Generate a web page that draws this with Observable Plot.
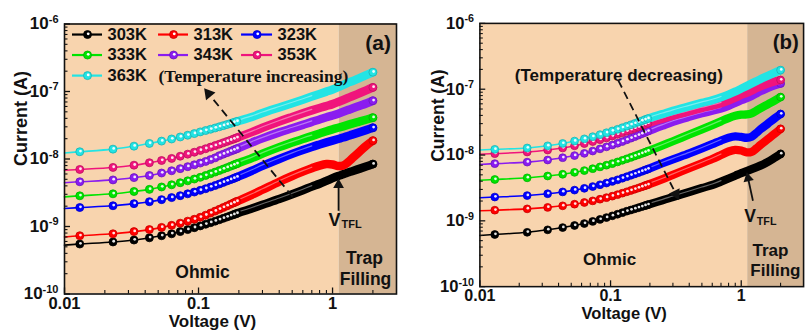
<!DOCTYPE html>
<html><head><meta charset="utf-8">
<script src="https://cdn.jsdelivr.net/npm/d3@7"></script>
<script src="https://cdn.jsdelivr.net/npm/@observablehq/plot@0.6"></script>
<style>
html,body{margin:0;padding:0;background:#fff;overflow:hidden;}
#wrap{position:relative;width:807px;height:331px;overflow:hidden;}
#pa{position:absolute;left:0;top:0;}
#pb{position:absolute;left:417px;top:0;}
</style></head><body><div id="wrap"><div id="pa"></div><div id="pb"></div></div>
<script>
// ---------- data ----------
const temps = ["303K","313K","323K","333K","343K","353K","363K"];
const colors = ["#000000","#ff0000","#0000ff","#00e400","#8a1cf0","#f0147c","#22e4e4"];
// voltage (V)
const V = [0.01,0.013,0.023,0.033,0.043,0.053,0.063,0.073,0.083,0.093,0.103,0.113,0.123,0.133,0.143,0.153,0.163,0.173,0.183,0.193,
           0.25,0.3,0.4,0.5,0.6,0.7,0.8,0.9,1.0,1.1,1.2,1.3,1.4,1.6,1.8,2.0];
// panel (a) currents, nA
const a303 = [0.53,0.55,0.59,0.63,0.68,0.73,0.78,0.84,0.9,0.96,1.02,1.08,1.14,1.2,1.26,1.32,1.38,1.44,1.5,1.56,1.85,2.1,2.55,3.0,3.45,3.9,4.3,4.75,5.2,5.6,5.95,6.3,6.6,7.2,7.8,8.4];
const a313 = [0.70,0.73,0.78,0.84,0.9,0.97,1.04,1.12,1.2,1.28,1.37,1.47,1.58,1.69,1.8,1.91,2.02,2.13,2.24,2.35,2.95,3.5,4.6,5.6,6.5,7.3,8.0,8.4,8.3,7.9,8.0,8.9,10.2,13.0,16.0,18.7];
const a323 = [1.85,1.91,2.03,2.18,2.33,2.5,2.68,2.86,3.05,3.24,3.43,3.63,3.84,4.05,4.27,4.5,4.72,4.94,5.16,5.38,6.7,7.9,10,11.9,13.6,15.1,16.4,17.6,18.7,19.8,20.8,21.9,23,25,27,29];
const a333 = [2.75,2.85,3.05,3.3,3.55,3.85,4.15,4.45,4.75,5.05,5.35,5.7,6.05,6.4,6.75,7.1,7.45,7.8,8.15,8.5,10.3,12.0,15,17.5,19.8,21.8,23.8,25.8,27.5,29,30.5,32,33.5,36,38.5,41];
const a343 = [4.45,4.6,4.9,5.3,5.7,6.2,6.7,7.2,7.7,8.2,8.7,9.2,9.8,10.4,11.2,11.8,12.4,13.0,13.6,14.2,17.5,20.2,24.8,28.5,32,35.5,38.5,41.5,44,47,50,53,56,61.5,67,73];
const a353 = [6.8,7.0,7.5,8.1,8.8,9.5,10.2,11.0,11.8,12.6,13.4,14.2,15.0,15.8,16.6,17.4,18.2,19.0,19.8,20.6,25,29,36,42,47.5,52.5,57,61,65,70,75,80,85,95,105,115];
const a363 = [12.3,12.8,14.0,15.5,17.0,18.4,19.8,21.2,22.5,23.8,25.2,26.4,27.6,28.8,30.0,31.2,32.4,33.6,34.8,36.0,42,48,58,67,75.5,84,92,99.5,107,116,125,135,142,159,176,193];
// panel (b) currents, nA
const b303 = [0.6,0.62,0.67,0.73,0.79,0.85,0.91,0.98,1.05,1.12,1.19,1.26,1.33,1.4,1.46,1.52,1.58,1.64,1.7,1.76,2.05,2.3,2.75,3.15,3.5,3.95,4.4,4.85,5.3,5.7,6.1,6.5,6.9,7.9,9.1,10.4];
const b313 = [1.42,1.45,1.52,1.6,1.69,1.79,1.9,2.01,2.13,2.25,2.37,2.5,2.63,2.76,2.89,3.02,3.15,3.28,3.41,3.54,4.3,5.0,6.3,7.5,8.7,10.0,11.3,12.0,11.7,11.0,11.2,12.5,14.2,17.5,21,25];
const b323 = [2.25,2.3,2.42,2.58,2.75,2.93,3.12,3.32,3.53,3.75,3.97,4.2,4.44,4.68,4.92,5.16,5.4,5.64,5.88,6.12,7.5,8.6,10.6,12.6,14.6,16.6,18.3,19.2,18.8,18.3,19.0,21.5,24.5,30,36,42];
const b333 = [4.15,4.25,4.5,4.8,5.1,5.45,5.8,6.2,6.6,7.0,7.4,7.85,8.3,8.75,9.2,9.65,10.1,10.55,11.0,11.45,14,16.2,20.5,24.5,28.5,32.5,36.5,39.5,41,41.5,43,47,51,59,67,76];
const b343 = [7.2,7.4,7.8,8.4,9.1,9.8,10.6,11.5,12.4,13.3,14.2,15.1,16.0,17.0,18.0,19.0,20.0,21.0,22.0,23.0,28,32,38,43,47,51,56,62,68,73,79,86,93,105,115,122];
const b353 = [10.3,10.5,11.1,11.9,12.8,13.8,14.9,16.0,17.1,18.2,19.4,20.6,21.8,23.0,24.2,25.4,26.6,27.8,29.0,30.2,35.5,39.5,46,51.5,56,61,67,74,82,88,95,103,110,122,131,138];
const b363 = [11.9,12.2,12.8,13.8,15.0,16.3,17.6,19.0,20.4,21.8,23.2,24.6,26.0,27.4,28.8,30.2,31.6,33.0,34.4,35.8,42,47,55,62,68,75,83,92,102,112,122,132,142,160,178,195];

// axes
const xDomain = [0.01, 3];
const yDomain = [1e-10, 1e-6];
const xMajor = [0.01, 0.1, 1];
const xMinor = [0.02,0.03,0.04,0.05,0.06,0.07,0.08,0.09,0.2,0.3,0.4,0.5,0.6,0.7,0.8,0.9,2];
const yMajor = [1e-10, 1e-9, 1e-8, 1e-7, 1e-6];
const yMinor = [];
for (let e = -10; e < -6; e++) for (let m = 2; m <= 9; m++) yMinor.push(m * Math.pow(10, e));
const ohmicRange = [0.01, 1.12];
const trapRange = [1.12, 3];

// legend (panel a)
const legX1 = [0.01147, 0.0503, 0.2094];
const legX2 = [0.01921, 0.0842, 0.3566];
const legXm = [0.01485, 0.0651, 0.2733];
const legXt = [0.02094, 0.0918, 0.3887];
const legY = [6.98e-7, 3.47e-7, 1.72e-7];

const annA = {
  tag: "(a)", tagPos: [2.19, 5.22e-7],
  note: "(Temperature increasing)", notePos: [0.0503, 1.69e-7], noteAnchor: "start", noteFont: "'Liberation Serif', 'Times New Roman', serif",
  dash: [[0.503, 2.76e-9], [0.1188, 9.31e-8]], dashRot: -39,
  vPos: [1.035, 1.254e-9], tflPos: [1.167, 1.057e-9],
  vArrow: [[1.109, 1.71e-9], [1.109, 4.15e-9]], vRot: 0,
  ohmic: [0.1071, 2.08e-10], trap: [1.733, 3.42e-10], filling: [1.763, 1.64e-10]
};
const annB = {
  tag: "(b)", tagPos: [2.19, 5.22e-7],
  note: "(Temperature decreasing)", notePos: [0.1157, 1.62e-7], noteAnchor: "middle", noteFont: "'Liberation Sans', Arial, sans-serif",
  dash: [[0.1147, 1.355e-7], [0.3162, 2.57e-9]], dashRot: 153,
  vPos: [1.167, 1.17e-9], tflPos: [1.316, 9.87e-10],
  vArrow: [[1.229, 2.02e-9], [1.128, 4.44e-9]], vRot: -12,
  ohmic: [0.0983, 2.61e-10], trap: [1.675, 3.54e-10], filling: [1.825, 1.73e-10]
};

const bgOhmic = "#f8d4ae";
const bgTrap = "#d5b593";
const sans = "'Liberation Sans', Arial, sans-serif";

function buildPanel(series, ann, withLegend) {
  const marks = [
    Plot.rect([ohmicRange], {x1: d => d[0], x2: d => d[1], y1: yDomain[0], y2: yDomain[1], fill: bgOhmic}),
    Plot.rect([trapRange], {x1: d => d[0], x2: d => d[1], y1: yDomain[0], y2: yDomain[1], fill: bgTrap})
  ];
  series.forEach((arr, s) => {
    const rows = arr.map((v, i) => ({T: temps[s], V: V[i], I: v * 1e-9}));
    const c = colors[s];
    const dark = d3.color(c).darker(0.7).formatHex();
    const pts = rows.filter(d => (d.V >= 0.013 && d.V <= 0.194) || d.V === 2.0);
    const band = rows.filter(d => d.V >= 0.183);
    const shine = rows.filter(d => d.V >= 0.183 && d.V <= 0.7);
    marks.push(
      Plot.line(rows, {x: "V", y: "I", stroke: c, strokeWidth: 1.6, curve: "catmull-rom"}),
      Plot.line(band, {x: "V", y: "I", stroke: c, strokeWidth: 8.5, strokeLinecap: "round", curve: "catmull-rom"}),
      Plot.line(shine, {x: "V", y: "I", stroke: "white", strokeOpacity: 0.4, strokeWidth: 1.2, curve: "catmull-rom", dy: -1}),
      Plot.dot(pts, {x: "V", y: "I", r: 4, fill: c, stroke: dark, strokeWidth: 0.8}),
      Plot.dot(pts, {x: "V", y: "I", r: 1.4, fill: "white", fillOpacity: 0.9, dx: 0.7, dy: -0.7})
    );
  });
  if (withLegend) {
    const leg = temps.map((t, s) => ({T: t, c: colors[s], x1: legX1[s % 3], x2: legX2[s % 3], xm: legXm[s % 3], xt: legXt[s % 3], y: legY[Math.floor(s / 3)]}));
    marks.push(
      Plot.ruleY(leg, {y: "y", x1: "x1", x2: "x2", stroke: "c", strokeWidth: 2.2}),
      Plot.dot(leg, {x: "xm", y: "y", r: 4, fill: "c", stroke: d => d3.color(d.c).darker(0.7).formatHex(), strokeWidth: 0.8}),
      Plot.dot(leg, {x: "xm", y: "y", r: 1.4, fill: "white", dx: 0.7, dy: -0.7}),
      Plot.text(leg, {x: "xt", y: "y", text: "T", textAnchor: "start", fontSize: 16.5, fontWeight: "bold", fontFamily: sans, fill: "#111"})
    );
  }
  // annotations
  marks.push(
    Plot.text([ann.note], {x: ann.notePos[0], y: ann.notePos[1], text: d => d, textAnchor: ann.noteAnchor, fontSize: 17.5, fontWeight: "bold", fontFamily: ann.noteFont, fill: "#111"}),
    Plot.link([ann.dash], {x1: d => d[0][0], y1: d => d[0][1], x2: d => d[1][0], y2: d => d[1][1], stroke: "#111", strokeWidth: 1.8, strokeDasharray: "8,5"}),
    Plot.dot([ann.dash[1]], {x: d => d[0], y: d => d[1], symbol: "triangle", r: 4.5, fill: "#111", rotate: ann.dashRot}),
    Plot.link([ann.vArrow], {x1: d => d[0][0], y1: d => d[0][1], x2: d => d[1][0], y2: d => d[1][1], stroke: "#111", strokeWidth: 1.8}),
    Plot.dot([ann.vArrow[1]], {x: d => d[0], y: d => d[1], symbol: "triangle", r: 4, fill: "#111", rotate: ann.vRot}),
    Plot.text(["V"], {x: ann.vPos[0], y: ann.vPos[1], text: d => d, fontSize: 18, fontWeight: "bold", fontFamily: sans, fill: "#111"}),
    Plot.text(["TFL"], {x: ann.tflPos[0], y: ann.tflPos[1], text: d => d, textAnchor: "start", fontSize: 11, fontWeight: "bold", fontFamily: sans, fill: "#111"}),
    Plot.text(["Ohmic"], {x: ann.ohmic[0], y: ann.ohmic[1], text: d => d, fontSize: 17.5, fontWeight: "bold", fontFamily: sans, fill: "#111"}),
    Plot.text(["Trap"], {x: ann.trap[0], y: ann.trap[1], text: d => d, fontSize: 17.5, fontWeight: "bold", fontFamily: sans, fill: "#111"}),
    Plot.text(["Filling"], {x: ann.filling[0], y: ann.filling[1], text: d => d, fontSize: 17.5, fontWeight: "bold", fontFamily: sans, fill: "#111"}),
    Plot.text([ann.tag], {x: ann.tagPos[0], y: ann.tagPos[1], text: d => d, fontSize: 21, fontWeight: "bold", fontFamily: sans, fill: "#111"})
  );
  // axes
  marks.push(
    Plot.axisY({ticks: yMajor, tickSize: 0, tickPadding: 6, tickFormat: d => "10^" + Math.round(Math.log10(d)), fontSize: 17, label: null}),
    Plot.axisY({ticks: yMajor, tickSize: -6, tickFormat: () => "", label: null, strokeWidth: 1.3}),
    Plot.axisY({ticks: yMinor, tickSize: -3.5, tickFormat: () => "", label: null, strokeWidth: 1.1}),
    Plot.axisX({ticks: xMajor, tickSize: 0, tickPadding: 3, tickFormat: d => String(d), fontSize: 16.5, label: null}),
    Plot.axisX({ticks: xMajor, tickSize: -6, tickFormat: () => "", label: null, strokeWidth: 1.3}),
    Plot.axisX({ticks: xMinor, tickSize: -3.5, tickFormat: () => "", label: null, strokeWidth: 1.1}),
    Plot.text(["Voltage (V)"], {frameAnchor: "bottom", text: d => d, dy: 33, dx: -18, fontSize: 17, fontWeight: "bold", fontFamily: sans, fill: "#111"}),
    Plot.text(["Current (A)"], {frameAnchor: "left", text: d => d, rotate: -90, dx: -43, dy: 7, fontSize: 18, fontWeight: "bold", fontFamily: sans, fill: "#111"}),
    Plot.frame({stroke: "#111", strokeWidth: 1.6})
  );
  const svg = Plot.plot({
    width: 400, height: 331,
    marginLeft: 64, marginRight: 4, marginTop: 23.5, marginBottom: 37.5,
    x: {type: "log", domain: xDomain},
    y: {type: "log", domain: yDomain},
    color: {type: "identity"},
    style: {fontFamily: sans, fontWeight: "bold", fontSize: "17px", background: "transparent", color: "#111", overflow: "visible"},
    marks
  });
  d3.select(svg).selectAll('[aria-label="y-axis tick label"] text').each(function () {
    const s = this.textContent;
    if (!s.includes("^")) return;
    const [b, e] = s.split("^");
    const t = d3.select(this);
    t.text(null);
    t.append("tspan").text(b);
    t.append("tspan").attr("font-size", 11).attr("dy", "-0.6em").text(e);
  });
  return svg;
}

document.getElementById("pa").appendChild(buildPanel([a303, a313, a323, a333, a343, a353, a363], annA, true));
document.getElementById("pb").appendChild(buildPanel([b303, b313, b323, b333, b343, b353, b363], annB, false));
</script></body></html>
